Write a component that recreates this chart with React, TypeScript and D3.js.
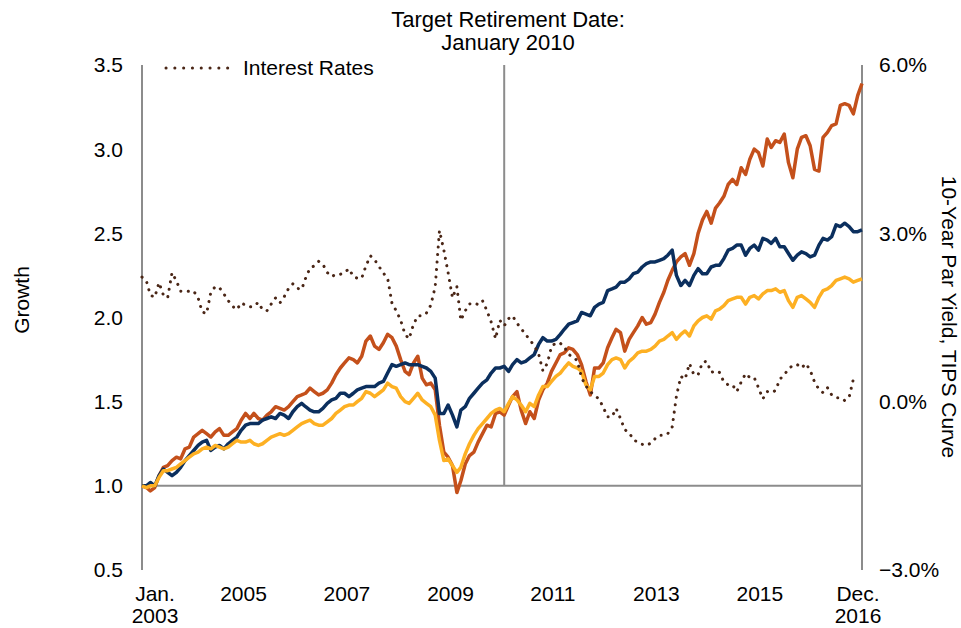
import React, { useEffect } from "react";
import * as d3 from "d3";

// monthly series, Jan 2003 .. Dec 2016
const aggressive = [
  1.0, 0.99, 0.97, 0.99, 1.06, 1.11, 1.12, 1.15, 1.17, 1.16, 1.22, 1.23,
  1.29, 1.31, 1.33, 1.31, 1.29, 1.32, 1.34, 1.3, 1.3, 1.32, 1.34, 1.39,
  1.43, 1.4, 1.43, 1.4, 1.39, 1.42, 1.44, 1.47, 1.46, 1.45, 1.47, 1.5,
  1.53, 1.54, 1.55, 1.58, 1.56, 1.54, 1.55, 1.57, 1.61, 1.66, 1.7, 1.73,
  1.76, 1.75, 1.73, 1.77, 1.86, 1.89, 1.83, 1.81, 1.85, 1.9, 1.88, 1.83,
  1.75, 1.68, 1.66, 1.73, 1.77, 1.64, 1.6, 1.61, 1.57, 1.36, 1.2, 1.17,
  1.12, 0.96, 1.03, 1.13, 1.18, 1.2, 1.26, 1.31, 1.36, 1.35, 1.43, 1.44,
  1.42, 1.48, 1.53, 1.56, 1.45, 1.37, 1.44, 1.4, 1.51, 1.57, 1.61, 1.68,
  1.73, 1.78, 1.79, 1.82, 1.81, 1.78, 1.72, 1.62, 1.54, 1.7, 1.7, 1.73,
  1.82, 1.88, 1.93, 1.91, 1.8, 1.87, 1.91, 1.95, 2.0, 1.96, 1.97, 2.02,
  2.09, 2.15, 2.22, 2.28, 2.33, 2.36, 2.38, 2.31, 2.38, 2.5, 2.58, 2.63,
  2.56, 2.65, 2.68, 2.72, 2.79, 2.82, 2.79, 2.89, 2.85, 2.94, 3.0, 2.98,
  2.9, 3.06, 3.01, 3.05, 3.04, 3.09, 2.92, 2.83, 3.0, 3.07, 3.08, 3.02,
  2.88, 2.87, 3.07, 3.1, 3.14, 3.15, 3.26, 3.27, 3.26, 3.21, 3.32, 3.39,
];
const moderate = [
  1.0, 1.0, 1.02, 1.0, 1.06, 1.1, 1.08, 1.06, 1.08, 1.11, 1.15, 1.18,
  1.21, 1.24, 1.26, 1.27, 1.21, 1.23, 1.24, 1.22, 1.25, 1.27, 1.29, 1.33,
  1.36, 1.37, 1.37, 1.37, 1.39, 1.4, 1.41, 1.4, 1.43, 1.42, 1.4, 1.44,
  1.47, 1.49, 1.47, 1.45, 1.44, 1.44, 1.46, 1.49, 1.51, 1.52, 1.55, 1.55,
  1.53, 1.55, 1.57, 1.58, 1.59, 1.59, 1.59, 1.61, 1.62, 1.67, 1.72, 1.71,
  1.72, 1.73, 1.72, 1.72, 1.72, 1.71, 1.7, 1.68, 1.64, 1.43, 1.43, 1.48,
  1.42, 1.35, 1.45, 1.47, 1.52, 1.55, 1.58, 1.61, 1.63, 1.67, 1.7, 1.7,
  1.71, 1.68, 1.72, 1.75, 1.73, 1.74, 1.76, 1.78, 1.84, 1.88, 1.86, 1.86,
  1.87, 1.9, 1.93, 1.96, 1.97, 1.98, 2.03, 2.02, 2.01, 2.06, 2.08, 2.09,
  2.16, 2.17, 2.18, 2.21, 2.21, 2.23, 2.26, 2.27, 2.3, 2.32, 2.33, 2.33,
  2.34, 2.35, 2.37, 2.4, 2.25, 2.19, 2.22, 2.19, 2.25, 2.29, 2.26, 2.26,
  2.3, 2.31, 2.31, 2.35, 2.4, 2.41, 2.43, 2.43, 2.37, 2.41, 2.43, 2.4,
  2.47, 2.46, 2.44, 2.47, 2.42, 2.42, 2.38, 2.34, 2.37, 2.39, 2.38, 2.36,
  2.37, 2.43, 2.47, 2.46, 2.48, 2.55, 2.54, 2.56, 2.54, 2.51, 2.51, 2.52,
];
const conservative = [
  1.0, 0.99, 1.0, 1.0, 1.05, 1.09, 1.09, 1.1, 1.11, 1.13, 1.15, 1.17,
  1.19, 1.2, 1.22, 1.23, 1.22, 1.24, 1.23, 1.22, 1.23, 1.25, 1.27, 1.26,
  1.26, 1.27, 1.25, 1.24, 1.25, 1.27, 1.29, 1.3, 1.31, 1.3, 1.31, 1.33,
  1.35, 1.37, 1.38, 1.39, 1.37, 1.36, 1.36, 1.38, 1.4, 1.43, 1.45, 1.47,
  1.48, 1.48, 1.5, 1.52, 1.56, 1.55, 1.53, 1.55, 1.57, 1.61, 1.59, 1.58,
  1.53, 1.5, 1.49, 1.52, 1.55, 1.51, 1.49, 1.47, 1.42, 1.27, 1.15, 1.16,
  1.12, 1.08, 1.11, 1.19, 1.25, 1.3, 1.34, 1.37, 1.4, 1.43, 1.45, 1.46,
  1.44, 1.49, 1.53, 1.51, 1.48, 1.44, 1.49, 1.47, 1.54, 1.59, 1.59, 1.62,
  1.65, 1.67, 1.7, 1.73, 1.71, 1.7, 1.68, 1.6, 1.57, 1.65, 1.65, 1.67,
  1.72, 1.75, 1.76, 1.75, 1.7, 1.74, 1.76, 1.79, 1.8, 1.8, 1.81, 1.83,
  1.86, 1.87, 1.89, 1.91, 1.87, 1.9, 1.92, 1.89, 1.95, 1.98, 2.0, 2.01,
  1.99, 2.04, 2.05, 2.07, 2.1, 2.11, 2.12, 2.12, 2.08, 2.12, 2.13, 2.11,
  2.14, 2.16, 2.16, 2.17, 2.15, 2.16, 2.1, 2.06, 2.12, 2.13, 2.11, 2.09,
  2.06, 2.12, 2.16, 2.17, 2.19, 2.22, 2.23, 2.24, 2.23, 2.21, 2.22, 2.23,
];
// 10-year TIPS par yield, %, Jan 2003 .. Oct 2016
const rates = [
  2.22, 2.15, 1.9, 1.86, 2.12, 1.9, 1.85, 2.3, 2.15, 1.97, 1.96, 1.97,
  1.97, 1.85, 1.6, 1.57, 1.95, 2.05, 2.03, 1.92, 1.8, 1.7, 1.64, 1.76,
  1.72, 1.69, 1.7, 1.77, 1.64, 1.62, 1.74, 1.85, 1.76, 1.87, 2.02, 2.1,
  2.02, 2.0, 2.2, 2.38, 2.42, 2.5, 2.45, 2.3, 2.23, 2.27, 2.27, 2.3,
  2.37, 2.23, 2.2, 2.2, 2.42, 2.6, 2.53, 2.41, 2.29, 2.2, 1.75, 1.62,
  1.45, 1.2, 1.12, 1.38, 1.53, 1.53, 1.58, 1.72, 2.05, 3.05, 2.7, 2.3,
  1.85, 2.05, 1.45, 1.62, 1.74, 1.76, 1.73, 1.8, 1.62, 1.42, 1.12, 1.45,
  1.35, 1.48, 1.53, 1.4, 1.3, 1.2, 1.1, 1.0, 0.85, 0.55, 0.68, 0.98,
  1.05, 1.04, 0.98, 0.84, 0.8, 0.73, 0.43, 0.28, 0.18, 0.11, 0.05, -0.1,
  -0.27, -0.27, -0.12, -0.3, -0.5, -0.55, -0.68, -0.72, -0.76, -0.78, -0.74, -0.66,
  -0.6, -0.6, -0.57, -0.45, 0.1, 0.45, 0.4, 0.68, 0.48, 0.48, 0.7, 0.72,
  0.52, 0.55, 0.52, 0.35, 0.3, 0.3, 0.18, 0.35, 0.5, 0.43, 0.43, 0.25,
  0.05, 0.18, 0.16, 0.2, 0.4, 0.48, 0.58, 0.65, 0.66, 0.6, 0.68, 0.56,
  0.35, 0.22, 0.16, 0.25, 0.12, 0.07, 0.07, 0.02, 0.08, 0.4,
];

const growthTicks = [0.5, 1.0, 1.5, 2.0, 2.5, 3.0, 3.5];
const rateTicks = [-3, 0, 3, 6];
const xLabels = [
  { date: new Date(2003, 0, 1), lines: ["Jan.", "2003"], dx: 13 },
  { date: new Date(2005, 0, 1), lines: ["2005"], dx: -2 },
  { date: new Date(2007, 0, 1), lines: ["2007"], dx: -2 },
  { date: new Date(2009, 0, 1), lines: ["2009"], dx: -2 },
  { date: new Date(2011, 0, 1), lines: ["2011"], dx: -3 },
  { date: new Date(2013, 0, 1), lines: ["2013"], dx: -3 },
  { date: new Date(2015, 0, 1), lines: ["2015"], dx: -3 },
  { date: new Date(2016, 11, 1), lines: ["Dec.", "2016"], dx: -4 },
];
const retirementDate = new Date(2010, 0, 1);

const start = new Date(2003, 0, 1);
const monthDate = (i: number) => d3.timeMonth.offset(start, i);

const font = "'Liberation Sans', Arial, sans-serif";
const axisGrey = "#8c8c8c";

export default function App() {
  useEffect(() => {
    document.body.style.margin = "0";
  }, []);

  const W = 961;
  const H = 628;
  const left = 142;
  const right = 862;
  const top = 65;
  const bottom = 570;

  const x = d3
    .scaleTime()
    .domain([start, new Date(2016, 11, 1)])
    .range([left, right]);
  const y = d3.scaleLinear().domain([0.5, 3.5]).range([bottom, top]);
  const y2 = d3.scaleLinear().domain([-3, 6]).range([bottom, top]);

  const growthLine = d3
    .line<number>()
    .x((d, i) => x(monthDate(i)))
    .y((d) => y(d));
  const rateLine = d3
    .line<number>()
    .x((d, i) => x(monthDate(i)))
    .y((d) => y2(d));

  const series = [
    { data: aggressive, color: "#C4501B" },
    { data: moderate, color: "#0B2F5E" },
    { data: conservative, color: "#FDB023" },
  ];

  return (
    <svg width={W} height={H} style={{ display: "block", fontFamily: font }}>
      <rect width={W} height={H} fill="#fff" />
      {/* axes */}
      <line x1={left} x2={left} y1={top} y2={bottom} stroke={axisGrey} strokeWidth={2} />
      <line x1={right} x2={right} y1={top} y2={bottom} stroke={axisGrey} strokeWidth={2} />
      <line x1={left} x2={right} y1={y(1.0)} y2={y(1.0)} stroke={axisGrey} strokeWidth={2} />
      <line
        x1={x(retirementDate)}
        x2={x(retirementDate)}
        y1={top}
        y2={y(1.0)}
        stroke={axisGrey}
        strokeWidth={2}
      />

      {series.map((s, i) => (
        <path
          key={i}
          d={growthLine(s.data) || ""}
          fill="none"
          stroke={s.color}
          strokeWidth={3.5}
          strokeLinejoin="round"
        />
      ))}
      <path
        d={rateLine(rates) || ""}
        fill="none"
        stroke="#4A2616"
        strokeWidth={3}
        strokeLinecap="round"
        strokeDasharray="0.1 7.4"
      />

      {/* left ticks */}
      {growthTicks.map((t) => (
        <text key={t} x={123} y={y(t)} dy="0.35em" textAnchor="end" fontSize={21} fill="#000">
          {d3.format(".1f")(t)}
        </text>
      ))}
      {/* right ticks */}
      {rateTicks.map((t) => (
        <text key={t} x={879} y={y2(t)} dy="0.35em" textAnchor="start" fontSize={21} fill="#000">
          {d3.format(".1f")(t) + "%"}
        </text>
      ))}
      {/* x labels */}
      {xLabels.map((l, i) => (
        <text key={i} x={x(l.date) + l.dx} y={601} textAnchor="middle" fontSize={21} fill="#000">
          {l.lines.map((ln, j) => (
            <tspan key={j} x={x(l.date) + l.dx} dy={j === 0 ? 0 : 22}>
              {ln}
            </tspan>
          ))}
        </text>
      ))}

      {/* axis titles */}
      <text
        transform={`translate(29,300) rotate(-90)`}
        textAnchor="middle"
        fontSize={21}
        fill="#000"
      >
        Growth
      </text>
      <text
        transform={`translate(942,317) rotate(90)`}
        textAnchor="middle"
        fontSize={21}
        fill="#000"
      >
        10-Year Par Yield, TIPS Curve
      </text>

      {/* title */}
      <text x={508} y={27} textAnchor="middle" fontSize={22} fill="#000">
        Target Retirement Date:
      </text>
      <text x={508} y={50} textAnchor="middle" fontSize={22} fill="#000">
        January 2010
      </text>

      {/* legend */}
      <line
        x1={166}
        x2={236}
        y1={68}
        y2={68}
        stroke="#4A2616"
        strokeWidth={3}
        strokeLinecap="round"
        strokeDasharray="0.1 8.7"
      />
      <text x={243} y={68} dy="0.35em" fontSize={21} fill="#000">
        Interest Rates
      </text>
    </svg>
  );
}
